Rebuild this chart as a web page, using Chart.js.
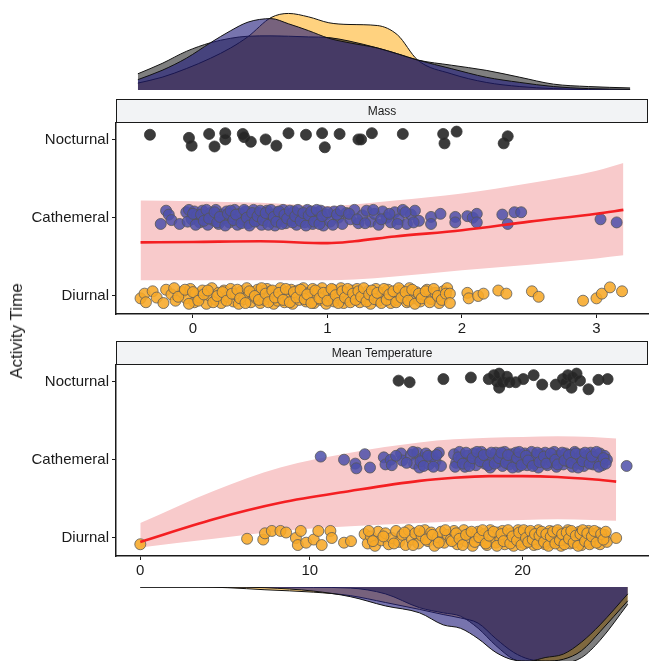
<!DOCTYPE html>
<html><head><meta charset="utf-8">
<script src="https://cdn.jsdelivr.net/npm/chart.js@4.4.1/dist/chart.umd.min.js"></script>
<style>
html,body{margin:0;padding:0;background:#fff;width:649px;height:661px;overflow:hidden;position:relative;}
canvas{position:absolute;}
#ytitle{position:absolute;left:17px;top:331px;transform:translate(-50%,-50%) rotate(-90deg);font:17px "Liberation Sans",Arial,sans-serif;color:#1a1a1a;white-space:nowrap;}
</style></head><body>
<canvas id="topDen" width="649" height="90" style="left:0;top:0"></canvas>
<canvas id="massPanel" width="649" height="245" style="left:0;top:99px"></canvas>
<canvas id="tempPanel" width="649" height="245" style="left:0;top:341px"></canvas>
<canvas id="botDen" width="649" height="74" style="left:0;top:587px"></canvas>
<div id="ytitle">Activity Time</div>
<script>
// ---------- categories & ticks ----------
const activityLevels = ['Diurnal', 'Cathemeral', 'Nocturnal'];
const massTicks = [0, 1, 2, 3];
const tempTicks = [0, 10, 20];

// ---------- Mass panel points: [mass, jitter] ----------
const massNocturnal = [[-0.32,0.06],[-0.03,0.02],[-0.01,-0.08],[0.12,0.07],[0.16,-0.09],[0.24,0.08],[0.24,0.0],[0.37,0.07],[0.38,0.03],[0.43,-0.03],[0.54,0.0],[0.62,-0.08],[0.71,0.08],[0.84,0.06],[0.96,0.08],[0.98,-0.1],[1.09,0.07],[1.23,0.0],[1.25,0.0],[1.33,0.08],[1.56,0.07],[1.86,0.07],[1.87,-0.05],[1.96,0.1],[2.31,-0.05],[2.34,0.04]];
const massCathemeral = [[-0.24,-0.08],[-0.2,0.09],[-0.18,0.04],[-0.16,-0.03],[-0.1,-0.08],
[-0.05,0.07],[-0.03,0.1],[-0.01,-0.02],[0.01,0.08],[0.03,0.03],[0.05,-0.06],[0.07,0.09],[0.09,0.01],[0.11,-0.09],[0.13,0.06],[0.15,-0.03],[0.17,0.1],[0.19,-0.08],[0.21,0.04],[0.23,-0.01],[0.25,0.08],[0.27,-0.06],[0.29,0.02],[0.31,0.1],[0.33,-0.09],[0.35,0.05],[0.37,-0.02],[0.39,0.08],[0.41,-0.07],[0.43,0.03],[0.45,0.1],[0.47,-0.04],[0.49,0.06],[0.51,-0.09],[0.53,0.01],[0.55,0.09],[0.57,-0.05],[0.59,0.04],[0.61,-0.1],[0.63,0.07],[0.65,-0.02],[0.67,0.1],[0.69,-0.07],[0.71,0.03],[0.73,-0.03],[0.75,0.08],[0.77,-0.09],[0.79,0.05],[0.81,0.0],[0.83,-0.06],[0.85,0.1],[0.87,0.02],[0.89,-0.08],[0.91,0.06],[0.93,-0.03],[0.95,0.09],[0.97,-0.1],[0.99,0.04],[1.02,-0.05],[1.05,0.08],[1.08,0.0],[1.11,-0.08],[1.14,0.06],[1.17,-0.02],[1.2,0.1],[1.23,-0.07],[1.26,0.03],[1.29,0.09],[1.32,-0.05],[1.35,0.05],[1.38,-0.09],[1.41,0.08],[1.44,0.0],[1.47,-0.06],[1.5,0.07],[1.53,-0.02],[1.56,0.1],[1.59,-0.08],[1.62,0.04],[1.65,0.09],[1.68,-0.04],
[-0.04,-0.05],[0.0,0.05],[0.02,-0.09],[0.06,0.04],[0.08,-0.04],[0.1,0.1],[0.12,-0.01],[0.16,0.07],[0.18,-0.06],[0.2,0.01],[0.24,-0.1],[0.26,0.05],[0.28,0.09],[0.3,-0.03],[0.32,0.04],[0.36,-0.07],[0.38,0.1],[0.4,0.0],[0.42,-0.1],[0.44,0.06],[0.46,-0.05],[0.48,0.02],[0.5,0.09],[0.52,-0.03],[0.54,0.06],[0.56,-0.09],[0.58,0.1],[0.6,0.01],[0.62,-0.05],[0.64,0.08],[0.66,-0.08],[0.68,0.04],[0.7,-0.01],[0.72,0.09],[0.74,-0.06],[0.76,0.02],[0.78,0.1],[0.8,-0.04],[0.82,0.06],[0.84,-0.1],[0.86,0.03],[0.88,0.08],[0.9,-0.05],[0.92,0.1],[0.94,-0.08],[0.96,0.02],[1.0,0.07],[1.04,-0.09],[1.07,0.04],[1.1,0.09],[1.16,0.05],[1.22,-0.02],[1.28,-0.07],[1.34,0.1],[1.4,-0.02],[1.46,0.05],[1.52,-0.08],[1.58,0.07],[1.64,-0.06],
[1.77,0.01],[1.77,-0.08],[1.84,0.05],[1.95,0.01],[1.95,-0.06],[2.04,0.02],[2.08,0.0],[2.11,0.05],[2.11,-0.06],[2.3,0.04],[2.34,-0.08],[2.39,0.07],[2.44,0.07],[3.03,-0.02],[3.15,-0.06]];
const massDiurnal = [[-0.39,-0.03],[-0.36,0.03],[-0.35,-0.08],[-0.3,0.06],[-0.27,-0.02],[-0.22,-0.09],[-0.2,0.08],[-0.16,0.02],[-0.13,-0.06],[-0.08,0.05],[-0.05,-0.03],[-0.02,0.09],[0.01,-0.08],[0.02,0.03],[0.05,-0.02],[0.07,0.07],[0.1,-0.1],[0.12,0.01],[0.14,0.1],[0.17,-0.05],[0.19,0.04],[0.21,-0.09],[0.23,0.07],[0.26,-0.01],[0.28,0.09],[0.3,-0.07],[0.32,0.02],[0.34,-0.1],[0.36,0.06],[0.38,-0.04],[0.4,0.1],[0.41,0.0],[0.43,-0.08],[0.45,0.05],[0.47,-0.03],[0.48,0.08],[0.5,-0.09],[0.52,0.02],[0.53,-0.05],[0.55,0.09],[0.57,-0.01],[0.58,0.06],[0.6,-0.1],[0.62,0.03],[0.63,-0.06],[0.65,0.1],[0.66,0.0],[0.68,-0.08],[0.7,0.05],[0.71,-0.03],[0.73,0.08],[0.74,-0.1],[0.76,0.02],[0.78,0.07],[0.79,-0.05],[0.81,0.0],[0.82,0.1],[0.84,-0.07],[0.86,0.04],[0.87,-0.02],[0.89,0.09],[0.9,-0.09],[0.92,0.01],[0.93,0.06],[0.95,-0.05],[0.96,0.1],[0.98,-0.01],[0.99,-0.1],[1.01,0.05],[1.02,0.0],[1.04,0.08],[1.05,-0.07],[1.07,0.03],[1.09,-0.03],[1.1,0.1],[1.12,-0.09],[1.14,0.04],[1.16,-0.05],[1.18,0.07],[1.2,-0.01],[1.22,0.09],[1.24,-0.08],[1.26,0.02],[1.28,-0.04],[1.3,0.06],[1.32,-0.1],[1.34,0.01],[1.36,0.09],[1.38,-0.06],[1.41,0.04],[1.43,-0.02],[1.45,0.08],[1.47,-0.09],[1.5,0.03],[1.52,-0.05],[1.54,0.07],[1.57,0.0],[1.59,-0.08],[1.61,0.1],[1.64,-0.03],[1.66,0.05],[1.69,-0.07],[1.71,0.02],[1.74,0.08],[1.77,-0.04],[1.8,0.04],[1.83,-0.09],[1.86,0.06],[1.89,0.1],
[-0.14,0.1],[-0.11,-0.01],[-0.06,0.08],[-0.03,-0.1],[0.0,0.05],[0.04,-0.06],[0.08,0.02],[0.11,0.07],[0.15,-0.08],[0.18,0.0],[0.22,0.05],[0.25,-0.06],[0.29,0.03],[0.33,0.08],[0.35,-0.03],[0.39,-0.09],[0.42,0.06],[0.46,0.0],[0.49,-0.05],[0.51,0.1],[0.54,0.03],[0.56,-0.08],[0.59,0.07],[0.61,-0.02],[0.64,0.04],[0.67,-0.05],[0.69,0.09],[0.72,-0.08],[0.75,0.05],[0.77,-0.02],[0.8,0.08],[0.83,-0.04],[0.85,0.02],[0.88,-0.09],[0.91,0.07],[0.94,-0.03],[0.97,0.04],[1.0,-0.06],[1.03,0.09],[1.06,0.01],[1.08,-0.09],[1.11,0.06],[1.13,-0.02],[1.15,0.09],[1.17,-0.08],[1.19,0.03],[1.21,-0.05],[1.23,0.06],[1.25,-0.01],[1.27,0.1],[1.29,-0.07],[1.31,0.02],[1.33,0.07],[1.35,-0.04],[1.37,0.04],[1.4,-0.09],[1.42,0.09],[1.44,-0.05],[1.46,0.02],[1.49,0.06],[1.51,-0.08],[1.53,0.1],[1.55,-0.02],[1.58,0.05],[1.6,-0.06],[1.63,0.08],[1.65,-0.1],[1.68,0.03],[1.7,-0.03],[1.73,0.06],[1.76,-0.08],[1.79,0.09],[1.82,0.0],[1.85,-0.05],[1.88,0.03],
[1.91,0.03],[1.91,-0.09],[2.04,0.04],[2.05,-0.03],[2.12,0.0],[2.16,0.03],[2.27,0.07],[2.33,0.03],[2.52,0.06],[2.57,-0.01],[2.9,-0.06],[3.0,-0.03],[3.04,0.03],[3.1,0.11],[3.19,0.06]];

// ---------- Mass fit line & ribbon ----------
const massFitX = [-0.39, 0, 0.5, 1.0, 1.2, 1.5, 2.0, 2.5, 3.0, 3.2];
const massFit = [1.685, 1.69, 1.70, 1.675, 1.70, 1.76, 1.84, 1.95, 2.05, 2.10];
const massUpper = [2.22, 2.21, 2.19, 2.15, 2.17, 2.22, 2.31, 2.44, 2.60, 2.70];
const massLower = [1.20, 1.20, 1.20, 1.20, 1.21, 1.25, 1.33, 1.40, 1.48, 1.52];

// ---------- Temperature panel points: [temperature, jitter] ----------
const tempNocturnal = [[14.32,0.01],[14.84,-0.01],[16.41,0.03],[17.67,0.05],[18.48,0.03],[18.71,0.08],[18.85,0.0],[18.95,0.1],[18.95,-0.08],[19.1,-0.01],[19.3,0.06],[19.41,-0.01],[19.69,-0.01],[20.03,0.03],[20.49,0.08],[20.87,-0.04],[21.47,-0.04],[21.78,0.03],[21.9,-0.02],[22.0,0.08],[22.16,-0.08],[22.2,0.05],[22.38,0.1],[22.53,0.01],[22.9,-0.1],[23.33,0.02],[23.73,0.03]];
const tempCathemeral = [[10.55,0.04],[11.7,0.0],[12.25,-0.05],[12.71,0.07],[12.3,-0.11],[12.96,-0.1],[13.62,0.03],[13.7,-0.06],[13.95,0.0],[14.44,0.08],[14.5,-0.01],
[14.9,0.06],[15.05,-0.05],[15.2,0.09],[15.3,-0.1],[15.45,0.02],[15.6,0.08],[15.75,-0.06],[15.9,0.04],[16.05,-0.02],[16.2,0.09],[16.3,-0.08],
[16.9,0.07],[17.0,-0.04],[17.15,0.1],[17.25,0.01],[17.4,-0.09],[17.5,0.05],[17.65,-0.02],[17.8,0.08],[17.9,-0.07],[18.05,0.03],[18.15,0.1],[18.3,-0.05],[18.4,0.06],[18.55,-0.1],[18.65,0.02],[18.8,0.09],[18.9,-0.03],[19.0,0.05],[19.1,-0.08],[19.2,0.1],[19.3,0.0],[19.4,-0.06],[19.5,0.07],[19.6,-0.02],[19.7,0.09],[19.8,-0.09],[19.9,0.04],[20.0,-0.04],[20.1,0.08],[20.2,-0.07],[20.3,0.02],[20.4,0.1],[20.5,-0.05],[20.6,0.05],[20.7,-0.1],[20.8,0.07],[20.9,-0.01],[21.0,0.09],[21.1,-0.07],[21.2,0.03],[21.3,-0.03],[21.4,0.1],[21.5,-0.09],[21.6,0.05],[21.7,0.0],[21.8,-0.06],[21.9,0.08],[22.0,-0.02],[22.1,0.06],[22.2,-0.09],[22.3,0.1],[22.4,0.01],[22.5,-0.05],[22.6,0.07],[22.7,-0.08],[22.8,0.04],[22.9,-0.01],[23.0,0.09],[23.1,-0.06],[23.2,0.03],[23.3,-0.03],[23.4,0.08],[23.5,-0.07],[23.6,0.05],[23.7,0.0],
[14.0,-0.07],[14.2,0.05],[14.7,-0.04],[15.0,0.1],[15.35,-0.02],[15.5,-0.08],[15.7,0.05],[15.95,-0.09],[16.1,0.06],[16.95,-0.09],[17.1,0.03],[17.3,-0.05],[17.45,0.09],[17.6,-0.08],[17.75,0.02],[17.95,0.1],[18.1,-0.02],[18.25,0.06],[18.45,-0.07],[18.6,0.09],[18.75,-0.05],[18.95,0.02],[19.05,0.09],[19.25,-0.04],[19.35,0.06],[19.55,-0.1],[19.75,0.02],[19.85,0.1],[19.95,-0.07],[20.15,0.05],[20.25,-0.01],[20.45,-0.08],[20.65,0.09],[20.75,-0.03],[20.95,0.04],[21.05,-0.05],[21.25,0.08],[21.45,0.0],[21.55,-0.06],[21.75,0.09],[21.85,-0.01],[22.05,0.06],[22.15,-0.04],[22.35,0.08],[22.45,-0.1],[22.65,-0.02],[22.75,0.09],[22.95,-0.05],[23.05,0.04],[23.25,0.1],[23.35,-0.09],[23.55,0.02],[23.65,-0.05],
[24.55,-0.08]];
const tempDiurnal = [[0,-0.08],[6.75,-0.01],[7.61,-0.02],[7.7,0.06],[8.06,0.09],[8.51,0.09],[8.8,0.07],[9.3,0.0],[9.4,-0.09],[9.55,0.09],[9.82,-0.06],[10.2,-0.02],[10.43,0.09],[10.6,-0.09],[11.03,0.09],[11.1,0.0],[11.7,-0.06],[12.04,-0.04],
[12.7,0.05],[12.85,-0.07],[13.0,0.02],[13.2,-0.1],[13.35,0.08],[13.5,-0.03],[13.7,0.06],[13.85,-0.08],[14.0,0.0],[14.2,0.09],[14.35,-0.05],[14.5,0.04],[14.65,-0.09],[14.8,0.1],[14.95,-0.02],[15.1,0.06],[15.25,-0.07],[15.4,0.03],[15.55,0.1],[15.7,-0.04],[15.85,0.07],[16.0,-0.1],[16.15,0.01],[16.3,0.08],[16.45,-0.06],[16.6,0.04],[16.75,-0.02],[16.9,0.09],[17.05,-0.08],[17.2,0.03],[17.35,0.1],[17.5,-0.05],[17.6,0.06],[17.75,-0.1],[17.9,0.02],[18.0,0.08],[18.15,-0.03],[18.3,0.05],[18.4,-0.09],[18.55,0.1],[18.65,0.0],[18.8,-0.06],[18.9,0.07],[19.0,-0.02],[19.1,0.09],[19.2,-0.08],[19.3,0.03],[19.4,-0.04],[19.5,0.06],[19.6,-0.1],[19.7,0.01],[19.8,0.1],[19.9,-0.05],[20.0,0.04],[20.1,-0.07],[20.2,0.08],[20.3,-0.01],[20.4,0.06],[20.5,-0.09],[20.6,0.02],[20.7,0.1],[20.8,-0.04],[20.9,0.05],[21.0,-0.08],[21.1,0.0],[21.2,0.09],[21.3,-0.06],[21.4,0.03],[21.5,-0.02],[21.6,0.07],[21.7,-0.1],[21.8,0.04],[21.9,-0.03],[22.0,0.1],[22.1,-0.07],[22.2,0.01],[22.3,0.06],[22.4,-0.05],[22.5,0.08],[22.6,-0.09],[22.7,0.02],[22.8,-0.01],[22.9,0.09],[23.0,-0.06],[23.1,0.05],[23.2,-0.03],[23.3,0.07],[23.4,-0.08],[23.5,0.0],[23.6,0.04],[23.7,-0.05],
[12.9,0.09],[13.1,-0.04],[13.6,0.02],[14.1,-0.07],[14.6,0.07],[15.0,-0.09],[15.3,0.09],[15.6,-0.02],[15.9,0.04],[16.2,-0.06],[16.5,0.1],[16.8,-0.04],[17.0,0.06],[17.15,-0.01],[17.3,-0.09],[17.45,0.04],[17.7,0.08],[17.85,-0.05],[18.05,0.01],[18.2,0.1],[18.35,-0.07],[18.5,0.03],[18.7,0.08],[18.85,-0.1],[19.05,0.05],[19.15,-0.04],[19.35,0.1],[19.45,-0.07],[19.55,0.02],[19.75,-0.03],[19.85,0.07],[19.95,-0.09],[20.05,0.1],[20.15,0.0],[20.25,-0.05],[20.35,0.09],[20.45,-0.02],[20.55,0.05],[20.65,-0.08],[20.75,0.03],[20.85,0.08],[20.95,-0.05],[21.05,0.05],[21.15,-0.1],[21.25,0.02],[21.35,0.08],[21.45,-0.07],[21.55,0.1],[21.65,-0.03],[21.75,0.05],[21.85,-0.08],[21.95,0.07],[22.05,-0.01],[22.15,0.09],[22.25,-0.06],[22.35,0.03],[22.45,-0.1],[22.55,0.05],[22.65,0.1],[22.75,-0.04],[22.85,0.06],[22.95,-0.08],[23.05,0.02],[23.15,0.09],[23.25,-0.06],[23.45,0.05],[23.55,-0.02],[23.65,0.08],
[24.1,0.0]];

// ---------- Temperature fit line & ribbon ----------
const tempFitX = [0, 4.9, 8.5, 12.0, 15.3, 16.9, 18.5, 20.0, 21.55, 23.06, 24.1];
const tempFit = [0.95, 1.24, 1.45, 1.60, 1.73, 1.77, 1.79, 1.79, 1.78, 1.75, 1.72];
const tempUpper = [1.19, 1.60, 1.90, 2.09, 2.22, 2.26, 2.28, 2.29, 2.30, 2.29, 2.27];
const tempLower = [0.88, 0.99, 1.09, 1.15, 1.19, 1.21, 1.22, 1.23, 1.24, 1.23, 1.22];

// ---------- Marginal densities ----------
const massDensX = [-0.41, -0.23, -0.05, 0.13, 0.28, 0.41, 0.58, 0.71, 0.86, 1.01, 1.16, 1.37, 1.52, 1.67, 1.92, 2.18, 2.43, 2.68, 2.94, 3.25];
const massDensNocturnal = [0.47, 0.77, 1.12, 1.37, 1.50, 1.56, 1.57, 1.56, 1.54, 1.52, 1.42, 1.22, 1.05, 0.87, 0.72, 0.57, 0.37, 0.17, 0.10, 0.06];
const massDensCathemeral = [0.30, 0.57, 0.92, 1.37, 1.72, 1.97, 2.07, 1.92, 1.72, 1.50, 1.37, 1.22, 1.05, 0.87, 0.62, 0.37, 0.22, 0.10, 0.04, 0.02];
const massDensDiurnal = [0.20, 0.37, 0.62, 0.92, 1.22, 1.55, 2.10, 2.22, 2.12, 1.95, 1.90, 1.87, 1.60, 0.87, 0.47, 0.22, 0.10, 0.04, 0.01, 0.0];

const tempDensX = [0, 4, 5.7, 7.7, 10.2, 12.0, 13.7, 15.3, 16.4, 17.2, 18.0, 18.8, 19.6, 20.3, 21.0, 21.8, 22.6, 23.4, 24.6];
const tempDensNocturnal = [0, 0, 0, 0, 0.01, 0.03, 0.2, 0.6, 0.75, 0.85, 1.2, 1.7, 2.1, 2.2, 2.2, 2.2, 2.05, 1.55, 0.5];
const tempDensCathemeral = [0, 0, 0, 0.02, 0.12, 0.28, 0.55, 0.75, 1.1, 1.2, 1.5, 1.9, 2.12, 2.15, 2.05, 1.95, 1.6, 1.1, 0.2];
const tempDensDiurnal = [0, 0, 0.02, 0.08, 0.15, 0.25, 0.45, 0.65, 0.8, 0.9, 1.05, 1.5, 1.9, 2.1, 2.15, 2.1, 1.85, 1.3, 0.4];

// ---------- helpers ----------
const FONT = '"Liberation Sans", Arial, sans-serif';
Chart.defaults.font.family = FONT;
const TEMP_POW = 1.174;
const tf = v => Math.sign(v) * Math.pow(Math.abs(v), TEMP_POW);
const ident = v => v;

const COL = {
  Diurnal: {fill: 'rgba(247,168,40,0.88)', line: '#5c5c5c'},
  Cathemeral: {fill: 'rgba(78,80,170,0.85)', line: '#555555'},
  Nocturnal: {fill: 'rgba(38,38,38,0.9)', line: '#333333'}
};
const DENS = {
  Diurnal: 'rgba(255,165,0,0.5)',
  Nocturnal: 'rgba(0,0,0,0.5)',
  Cathemeral: 'rgba(35,30,125,0.62)'
};

const stripPlugin = {
  id: 'strip',
  afterDraw(chart, args, opts) {
    const {ctx, chartArea: a} = chart;
    const h = opts.height;
    ctx.save();
    ctx.fillStyle = '#f2f3f5';
    ctx.fillRect(a.left, a.top - h, a.right - a.left, h);
    ctx.strokeStyle = '#1a1a1a';
    ctx.lineWidth = 1;
    ctx.strokeRect(a.left + 0.5, a.top - h + 0.5, a.right - a.left - 1, h - 1);
    ctx.fillStyle = '#1a1a1a';
    ctx.font = '12px ' + FONT;
    ctx.textAlign = 'center';
    ctx.textBaseline = 'middle';
    ctx.fillText(opts.text, (a.left + a.right) / 2, a.top - h / 2 + 0.5);
    ctx.restore();
  }
};

function pointSet(pairs, name, xf) {
  const level = activityLevels.indexOf(name) + 1;
  return {
    label: name,
    data: pairs.map(([x, j]) => ({x: xf(x), y: level + j})),
    backgroundColor: COL[name].fill,
    borderColor: COL[name].line,
    borderWidth: 0.8,
    pointRadius: 5.5,
    pointHoverRadius: 5.5,
    order: 5
  };
}
function lineSet(xs, ys, xf, extra) {
  return Object.assign({
    data: xs.map((x, i) => ({x: xf(x), y: ys[i]})),
    showLine: true,
    pointRadius: 0,
    cubicInterpolationMode: 'monotone'
  }, extra);
}

function axisCommon() {
  return {
    grid: {display: true, drawOnChartArea: false, drawTicks: true, tickLength: 4, color: '#1a1a1a', lineWidth: 1},
    border: {display: true, color: '#1a1a1a', width: 1.5}
  };
}

function makePanel(id, cfg) {
  const xf = cfg.xf;
  const datasets = [
    lineSet(cfg.fitX, cfg.upper, xf, {fill: '+1', backgroundColor: '#f8cacb', borderWidth: 0, order: 20}),
    lineSet(cfg.fitX, cfg.lower, xf, {fill: false, borderWidth: 0, order: 21}),
    pointSet(cfg.diurnal, 'Diurnal', xf),
    pointSet(cfg.cathemeral, 'Cathemeral', xf),
    pointSet(cfg.nocturnal, 'Nocturnal', xf),
    lineSet(cfg.fitX, cfg.fit, xf, {borderColor: '#f41f22', borderWidth: 2.6, fill: false, order: 0})
  ];
  return new Chart(document.getElementById(id), {
    type: 'scatter',
    data: {datasets},
    options: {
      responsive: false, animation: false, events: [],
      layout: {autoPadding: false, padding: {top: 24, right: 1, left: 0, bottom: 0}},
      plugins: {legend: {display: false}, tooltip: {enabled: false}, strip: {text: cfg.title, height: 24}},
      scales: {
        x: Object.assign(axisCommon(), {
          type: 'linear', min: cfg.xmin, max: cfg.xmax,
          afterBuildTicks: s => { s.ticks = cfg.ticks.map(v => ({value: xf(v)})); },
          afterFit: s => { s.height = 30; s.paddingLeft = 0; s.paddingRight = 0; },
          ticks: {autoSkip: false, maxRotation: 0, padding: 2, color: '#1a1a1a', font: {size: 15},
                  callback: (v, i) => String(cfg.ticks[i])}
        }),
        y: Object.assign(axisCommon(), {
          type: 'linear', min: 0.77, max: 3.21,
          afterBuildTicks: s => { s.ticks = activityLevels.map((n, i) => ({value: i + 1})); },
          afterFit: s => { s.width = 116; s.paddingTop = 0; s.paddingBottom = 0; },
          ticks: {padding: 3, color: '#1a1a1a', font: {size: 15},
                  callback: v => activityLevels[Math.round(v) - 1]}
        })
      }
    },
    plugins: [stripPlugin]
  });
}

function makeDensity(id, cfg) {
  const xf = cfg.xf;
  const mk = (ys, name, order) => ({
    data: cfg.xs.map((x, i) => ({x: xf(x), y: ys[i]})),
    showLine: true, pointRadius: 0, fill: 'origin',
    backgroundColor: DENS[name], borderColor: '#111', borderWidth: 1,
    cubicInterpolationMode: 'monotone', order
  });
  return new Chart(document.getElementById(id), {
    type: 'scatter',
    data: {datasets: [
      mk(cfg.cathemeral, 'Cathemeral', 1),
      mk(cfg.nocturnal, 'Nocturnal', 2),
      mk(cfg.diurnal, 'Diurnal', 3)
    ]},
    options: {
      responsive: false, animation: false, events: [],
      layout: {autoPadding: false, padding: {top: 0, right: 1, left: 116, bottom: 0}},
      plugins: {legend: {display: false}, tooltip: {enabled: false}},
      scales: {
        x: {type: 'linear', display: false, min: cfg.xmin, max: cfg.xmax},
        y: {type: 'linear', display: false, min: 0, max: cfg.ymax, reverse: cfg.reverse}
      }
    }
  });
}

const massRange = [-0.5725, 3.383];
const tempRange = [-2.14, 44.73];

makeDensity('topDen', {xs: massDensX, nocturnal: massDensNocturnal, cathemeral: massDensCathemeral, diurnal: massDensDiurnal,
  xf: ident, xmin: massRange[0], xmax: massRange[1], ymax: 2.61, reverse: false});

makePanel('massPanel', {title: 'Mass', xf: ident, xmin: massRange[0], xmax: massRange[1], ticks: massTicks,
  fitX: massFitX, fit: massFit, upper: massUpper, lower: massLower,
  diurnal: massDiurnal, cathemeral: massCathemeral, nocturnal: massNocturnal});

makePanel('tempPanel', {title: 'Mean Temperature', xf: tf, xmin: tempRange[0], xmax: tempRange[1], ticks: tempTicks,
  fitX: tempFitX, fit: tempFit, upper: tempUpper, lower: tempLower,
  diurnal: tempDiurnal, cathemeral: tempCathemeral, nocturnal: tempNocturnal});

makeDensity('botDen', {xs: tempDensX, nocturnal: tempDensNocturnal, cathemeral: tempDensCathemeral, diurnal: tempDensDiurnal,
  xf: tf, xmin: tempRange[0], xmax: tempRange[1], ymax: 2.15, reverse: true});
</script>
</body></html>
